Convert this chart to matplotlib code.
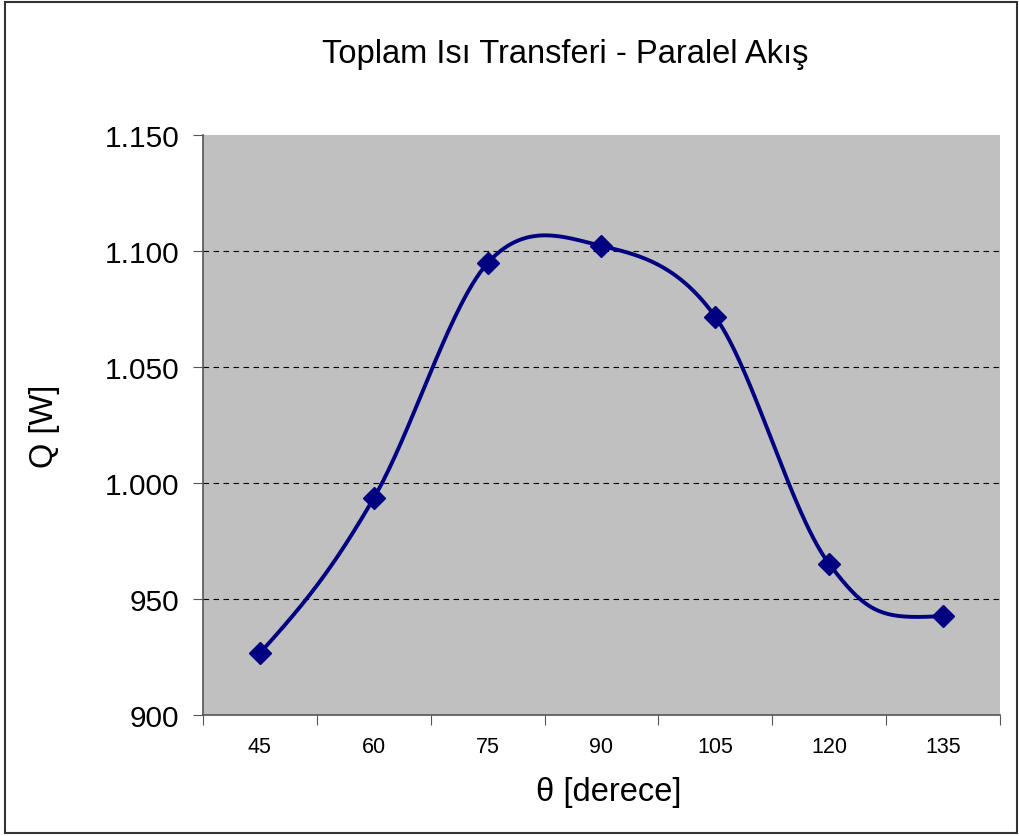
import numpy as np
import matplotlib.pyplot as plt
from matplotlib.patches import Rectangle
from matplotlib.ticker import FuncFormatter

plt.rcParams['font.family'] = ['Liberation Sans', 'DejaVu Sans']

# data
angles = ['45', '60', '75', '90', '105', '120', '135']
q = [926.7, 993.5, 1094.8, 1102.2, 1071.6, 965.1, 942.7]

fig = plt.figure(figsize=(10.2, 8.37), dpi=100)
ax = fig.add_axes([203/1020, 1-716/837, 797/1020, 580/837])
ax.set_facecolor('#C0C0C0')

# Excel-like smoothed line, worked out in pixel space
x = np.arange(len(q)) + 0.5
y = np.array(q)
sx, sy = 797/7, 580/250
P = np.column_stack([x*sx, (y-900)*sy])
n = len(P)

def mirror(c, a, b, p_from, p_to):
    # mirror control point offset (c - p_from) across perpendicular bisector of a-b
    u = (b - a) / np.linalg.norm(b - a)
    nrm = np.array([-u[1], u[0]])
    d = c - p_from
    return p_to + (-(d @ u)) * u + (d @ nrm) * nrm

t = np.linspace(0, 1, 60)[:, None]
curve = []
for i in range(n - 1):
    p0, p3 = P[i], P[i+1]
    c1 = p0 + (P[i+1] - P[i-1]) / 6 if i > 0 else None
    c2 = p3 - (P[i+2] - P[i]) / 6 if i < n - 2 else None
    if c1 is None:
        c1 = mirror(c2, p0, p3, p3, p0)
    if c2 is None:
        c2 = mirror(c1, p0, p3, p0, p3)
    seg = (1-t)**3*p0 + 3*(1-t)**2*t*c1 + 3*(1-t)*t**2*c2 + t**3*p3
    curve.append(seg)
curve = np.vstack(curve)
ax.plot(curve[:, 0]/sx, curve[:, 1]/sy + 900, color='#000080', lw=2.8, zorder=3)
ax.plot(x, y, ls='none', marker='D', ms=11, color='#000080', zorder=4)

ax.set_xlim(0, 7)
ax.set_ylim(900, 1150)
ax.set_yticks(np.arange(900, 1151, 50))
ax.yaxis.set_major_formatter(FuncFormatter(lambda v, p: f'{int(v):,}'.replace(',', '.')))
for g in [950, 1000, 1050, 1100]:
    ax.axhline(g, color='black', lw=0.8, ls=(0, (5, 4)), zorder=2)

ax.set_xticks(np.arange(0, 8))
ax.set_xticklabels([])
ax.set_xticks(x, minor=True)
ax.set_xticklabels(angles, minor=True, fontsize=15.5)
ax.tick_params(axis='x', which='minor', length=0, pad=15)
ax.tick_params(axis='x', which='major', length=7, color='#555555')
ax.tick_params(axis='y', length=7, color='#555555', labelsize=21.5, pad=10)

for s in ['top', 'right']:
    ax.spines[s].set_visible(False)
for s in ['left', 'bottom']:
    ax.spines[s].set_color('#555555')
    ax.spines[s].set_linewidth(1.2)

fig.text(565/1020, 1-55/837, 'Toplam Isı Transferi - Paralel Akış', fontsize=23.5, ha='center', va='center')
fig.text(609/1020, 1-793/837, 'θ [derece]', fontsize=23.5, ha='center', va='center')
fig.text(45/1020, 1-426/837, 'Q [W]', fontsize=23.5, ha='center', va='center', rotation=90)

fig.patches.append(Rectangle((5/1020, 3/837), 1012/1020, 831/837, transform=fig.transFigure,
                             fill=False, edgecolor='#333333', lw=1.5))

fig.savefig('out.png', dpi=100)
